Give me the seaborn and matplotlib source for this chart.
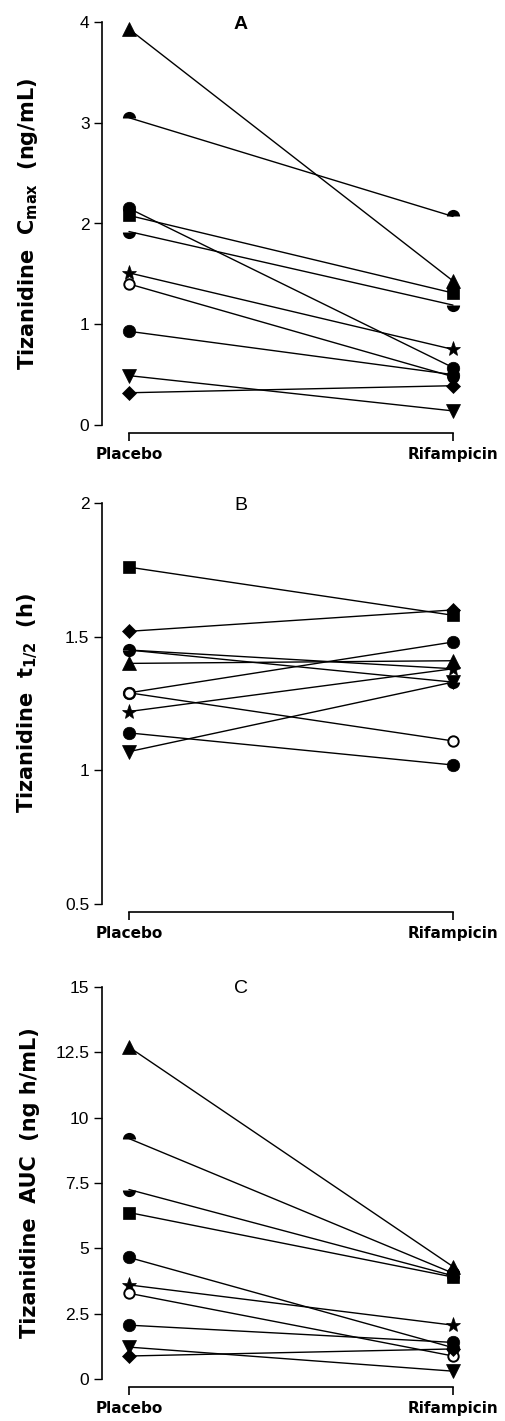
import pandas as pd
import matplotlib
matplotlib.use("Agg")
import matplotlib.pyplot as plt
import seaborn as sns

# crossover study: 10 subjects, placebo vs rifampicin
conditions = ["Placebo", "Rifampicin"]
subjects = ["S1", "S2", "S3", "S4", "S5", "S6", "S7", "S8", "S9", "S10"]

cmax_placebo = [3.93, 3.05, 2.15, 2.08, 1.92, 1.51, 1.40, 0.93, 0.49, 0.32]
cmax_rifampicin = [1.43, 2.07, 0.57, 1.31, 1.19, 0.75, 0.48, 0.50, 0.14, 0.39]

thalf_placebo = [1.40, 1.45, 1.29, 1.76, 1.45, 1.22, 1.29, 1.14, 1.07, 1.52]
thalf_rifampicin = [1.41, 1.38, 1.48, 1.58, 1.33, 1.38, 1.11, 1.02, 1.33, 1.60]

auc_placebo = [12.7, 9.2, 4.65, 6.37, 7.25, 3.6, 3.28, 2.06, 1.22, 0.88]
auc_rifampicin = [4.3, 4.05, 1.2, 3.9, 3.95, 2.06, 0.88, 1.4, 0.3, 1.15]

ylim_a, yticks_a, ylabels_a = (0, 4), [0, 1, 2, 3, 4], ["0", "1", "2", "3", "4"]
ylim_b, yticks_b, ylabels_b = (0.5, 2), [0.5, 1, 1.5, 2], ["0.5", "1", "1.5", "2"]
ylim_c = (0, 15)
yticks_c = [0, 2.5, 5, 7.5, 10, 12.5, 15]
ylabels_c = ["0", "2.5", "5", "7.5", "10", "12.5", "15"]


def long_table(placebo, rifampicin):
    rows = []
    for s, p, r in zip(subjects, placebo, rifampicin):
        rows.append({"subject": s, "cond": conditions[0], "pos": 0, "value": p})
        rows.append({"subject": s, "cond": conditions[1], "pos": 1, "value": r})
    return pd.DataFrame(rows)


clear = (1, 1, 1, 0)
marker_kw = {
    "S1": dict(marker="^", ms=9.5, mew=0.5),
    "S2": dict(marker="o", ms=9.5, mew=0, fillstyle="top", markerfacecoloralt=clear),
    "S3": dict(marker="o", ms=9, mew=0.5),
    "S4": dict(marker="s", ms=8, mew=0.5),
    "S5": dict(marker="o", ms=9.5, mew=0, fillstyle="bottom", markerfacecoloralt=clear),
    "S6": dict(marker="*", ms=11, mew=0.5),
    "S7": dict(marker="o", ms=7.5, mew=1.4, markerfacecolor="white"),
    "S8": dict(marker="o", ms=9, mew=0.5),
    "S9": dict(marker="v", ms=9.5, mew=0.5),
    "S10": dict(marker="D", ms=7, mew=0.5),
}

sns.set_style("ticks")
plt.rcParams["font.family"] = ["Liberation Sans", "DejaVu Sans"]
plt.rcParams["mathtext.fontset"] = "dejavusans"
plt.rcParams["text.color"] = "black"
plt.rcParams["axes.labelcolor"] = "black"

W, H = 506, 1421
fig = plt.figure(figsize=(W / 100, H / 100), dpi=100)

# pixel geometry: (top, bottom) of each y spine
panels = [
    (cmax_placebo, cmax_rifampicin, ylim_a, yticks_a, ylabels_a,
     r"Tizanidine  C$_{\mathbf{max}}$  (ng/mL)", "A", "bold", 22, 425),
    (thalf_placebo, thalf_rifampicin, ylim_b, yticks_b, ylabels_b,
     r"Tizanidine  t$_{\mathbf{1/2}}$  (h)", "B", "normal", 503, 904),
    (auc_placebo, auc_rifampicin, ylim_c, yticks_c, ylabels_c,
     "Tizanidine  AUC  (ng h/mL)", "C", "normal", 987, 1379),
]

x_left, x_right, x0, x1 = 102, 480, 129, 453
ppu = x1 - x0

for pl, rf, ylim, yt, yl, ylab, letter, lw, top, bot in panels:
    ax = fig.add_axes([x_left / W, 1 - bot / H, (x_right - x_left) / W, (bot - top) / H])
    df = long_table(pl, rf)
    for s in subjects:
        sub = df[df["subject"] == s]
        sns.lineplot(data=sub, x="pos", y="value", ax=ax, estimator=None, sort=False,
                     color="black", linewidth=1.0, markeredgecolor="black",
                     markerfacecolor=marker_kw[s].get("markerfacecolor", "black"),
                     clip_on=False, legend=False,
                     **{k: v for k, v in marker_kw[s].items() if k != "markerfacecolor"})

    ax.set_xlim(-(x0 - x_left) / ppu, (x_right - x0) / ppu)
    ax.set_ylim(*ylim)
    ax.set_xticks([0, 1], labels=conditions)
    ax.set_yticks(yt, labels=yl)
    ax.set_xlabel("")
    ax.set_ylabel(ylab, fontsize=15, fontweight="bold", family="DejaVu Sans", color="black")
    ax.yaxis.set_label_coords(-0.165, 0.5)

    sns.despine(ax=ax)
    ax.spines["bottom"].set_bounds(0, 1)
    ax.spines["bottom"].set_position(("outward", 6))
    for sp in ("left", "bottom"):
        ax.spines[sp].set_linewidth(1.2)
        ax.spines[sp].set_color("black")
    ax.tick_params(axis="y", direction="out", length=6, width=1.0, pad=3, colors="black")
    ax.tick_params(axis="x", direction="out", length=6, width=1.2, pad=4, colors="black")
    for t in ax.get_xticklabels():
        t.set_fontfamily("DejaVu Sans")
        t.set_fontweight("bold")
        t.set_fontsize(11)
    for t in ax.get_yticklabels():
        t.set_fontsize(12.5)
    ax.grid(False)

    ax.text(0.345, 0.995, letter, transform=ax.get_xaxis_transform(),
            ha="center", va="center", fontsize=14, fontweight=lw, color="black")

fig.savefig("out.png", dpi=100)
